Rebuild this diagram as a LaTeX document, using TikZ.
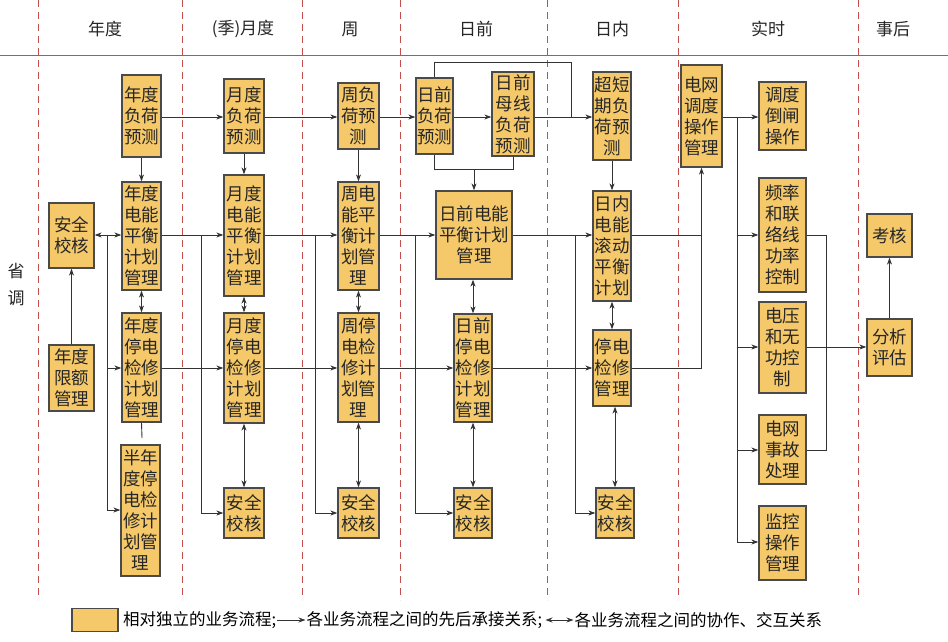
\documentclass[tikz,border=0pt]{standalone}
\usepackage{fontspec}
\setmainfont{Noto Sans CJK SC}
\usetikzlibrary{arrows.meta}
\definecolor{bfill}{HTML}{F5C96A}
\definecolor{bdraw}{HTML}{4A4A4A}
\definecolor{dred}{HTML}{C0504D}
\tikzset{
  box/.style={draw=bdraw,line width=1.3pt,fill=bfill,inner sep=0pt,align=center,
    font=\fontsize{17.5}{21}\selectfont,text=black!85},
  ln/.style={draw=black!80,line width=0.9pt},
  ar/.style={ln,-{Stealth[length=7pt,width=5pt]}},
  dar/.style={ln,{Stealth[length=7pt,width=5pt]}-{Stealth[length=7pt,width=5pt]}},
  sep/.style={draw=dred,line width=0.8pt,dash pattern=on 7pt off 5pt},
  hd/.style={font=\fontsize{17}{20}\selectfont,text=black!85}
}
\begin{document}
\begin{tikzpicture}[x=1pt,y=-1pt]
\def\B#1#2#3#4#5#6{\path node[box,minimum width={(#4-#2)*1pt},minimum height={(#5-#3)*1pt}] (#1) at ({(#2+#4)/2},{(#3+#5)/2}) {#6};}
\useasboundingbox (0,0) rectangle (948,642);
\fill[white] (0,0) rectangle (948,642);
% separators
\foreach \x in {38,182,302,400,547,678,858} \draw[sep] (\x,0) -- (\x,600);
\draw[dred,line width=0.8pt] (0,55) -- (948,55);
\node[hd] (h1) at (105,29) {年度};
\node[hd] (h2) at (243,29) {(季)月度};
\node[hd] (h3) at (350,29) {周};
\node[hd] (h4) at (476,29) {日前};
\node[hd] (h5) at (612,29) {日内};
\node[hd] (h6) at (768,29) {实时};
\node[hd] (h7) at (893,29) {事后};
\node[hd,align=center,font=\fontsize{17}{27}\selectfont] (sd) at (16,285) {省\\调};
% boxes
\B{ys}{49}{203}{94}{268}{安全\\校核}
\B{lim}{49}{345}{94}{411}{年度\\限额\\管理}
\B{yl}{122}{75}{161}{157}{年度\\负荷\\预测}
\B{ye}{122}{182}{161}{290}{年度\\电能\\平衡\\计划\\管理}
\B{yo}{122}{313}{161}{422}{年度\\停电\\检修\\计划\\管理}
\B{hy}{121}{445}{160}{576}{半年\\度停\\电检\\修计\\划管\\理}
\B{ml}{224}{79}{264}{153}{月度\\负荷\\预测}
\B{me}{224}{175}{264}{296}{月度\\电能\\平衡\\计划\\管理}
\B{mo}{224}{313}{264}{423}{月度\\停电\\检修\\计划\\管理}
\B{ms}{224}{488}{264}{538}{安全\\校核}
\B{wl}{338}{83}{379}{149}{周负\\荷预\\测}
\B{we}{338}{182}{379}{290}{周电\\能平\\衡计\\划管\\理}
\B{wo}{338}{313}{379}{422}{周停\\电检\\修计\\划管\\理}
\B{ws}{338}{488}{379}{538}{安全\\校核}
\B{dl}{416}{78}{453}{154}{日前\\负荷\\预测}
\B{db}{492}{72}{534}{156}{日前\\母线\\负荷\\预测}
\B{dpe}{436}{191}{512}{279}{日前电能\\平衡计划\\管理}
\B{dpo}{454}{314}{492}{422}{日前\\停电\\检修\\计划\\管理}
\B{ds}{454}{488}{492}{538}{安全\\校核}
\B{cd}{593}{72}{631}{160}{超短\\期负\\荷预\\测}
\B{ce}{593}{191}{631}{301}{日内\\电能\\滚动\\平衡\\计划}
\B{co}{593}{330}{631}{406}{停电\\检修\\管理}
\B{cs}{596}{488}{634}{538}{安全\\校核}
\B{grid}{681}{65}{722}{167}{电网\\调度\\操作\\管理}
\B{sw}{759}{82}{806}{150}{调度\\倒闸\\操作}
\B{freq}{759}{178}{806}{292}{频率\\和联\\络线\\功率\\控制}
\B{volt}{759}{302}{806}{393}{电压\\和无\\功控\\制}
\B{acc}{759}{415}{806}{484}{电网\\事故\\处理}
\B{mon}{759}{506}{806}{580}{监控\\操作\\管理}
\B{kh}{867}{214}{912}{257}{考核}
\B{ana}{867}{319}{912}{376}{分析\\评估}
% load row
\draw[ar] (yl.east |- 0,117) -- (ml.west |- 0,117);
\draw[ar] (ml.east |- 0,117) -- (wl.west |- 0,117);
\draw[ar] (wl.east |- 0,117) -- (dl.west |- 0,117);
\draw[ar] (dl.east |- 0,117) -- (db.west |- 0,117);
\draw[ar] (db.east |- 0,117) -- (cd.west |- 0,117);
\draw[ln] (dl.north) |- (571,62) -- (571,117);
\draw[ln] (dl.south) |- (db.south |- 0,169) -- (db.south);
\draw[ar] (dpe.north |- 0,169) -- (dpe.north);
% verticals
\draw[ar] (yl) -- (ye);
\draw[ar] (ml) -- (me);
\draw[ar] (wl) -- (we);
\draw[ar] (cd) -- (ce);
\draw[dar] (ye) -- (yo);
\draw[dar] (me) -- (mo);
\draw[dar] (we) -- (wo);
\draw[dar] (dpe.south -| dpo.north) -- (dpo.north);
\draw[dar] (ce) -- (co);
\draw[dar] (mo) -- (ms);
\draw[dar] (wo) -- (ws);
\draw[dar] (dpo) -- (ds);
\draw[dar] (co.south -| cs.north) -- (cs.north);
\draw[ln] (yo.south) -- (142,438);
% energy row
\draw[ar] (ye.east |- 0,235) -- (me.west |- 0,235);
\draw[ar] (me.east |- 0,235) -- (we.west |- 0,235);
\draw[ar] (we.east |- 0,235) -- (dpe.west |- 0,235);
\draw[ar] (dpe.east |- 0,235) -- (ce.west |- 0,235);
\draw[ar] (ce.east |- 0,235) -| (grid.south);
% outage row
\draw[ar] (yo.east |- 0,368) -- (mo.west |- 0,368);
\draw[ar] (mo.east |- 0,368) -- (wo.west |- 0,368);
\draw[ar] (wo.east |- 0,368) -- (dpo.west |- 0,368);
\draw[ar] (dpo.east |- 0,368) -- (co.west |- 0,368);
\draw[ln] (co.east |- 0,368) -| (grid.south |- 0,235);
% branches to safety checks
\draw[ar] (201,235) |- (ms.west);
\draw[ar] (315,235) |- (ws.west);
\draw[ar] (415,235) |- (ds.west);
\draw[ar] (575,235) |- (cs.west);
% left
\draw[ar] (lim) -- (ys);
\draw[dar] (ys.east |- 0,235) -- (ye.west |- 0,235);
\draw[ar] (107,235) |- (hy.west |- 0,510);
\draw[ar] (107,368) -- (yo.west |- 0,368);
% realtime
\draw[ar] (grid.east |- 0,117) -- (sw.west |- 0,117);
\draw[ar] (737,117) |- (mon.west |- 0,542);
\draw[ar] (737,235) -- (freq.west |- 0,235);
\draw[ar] (737,347) -- (volt.west |- 0,347);
\draw[ar] (737,450) -- (acc.west |- 0,450);
\draw[ln] (freq.east |- 0,235) -- (826,235) -- (826,450) -- (acc.east |- 0,450);
\draw[ar] (volt.east |- 0,347) -- (ana.west |- 0,347);
\draw[ar] (ana) -- (kh);
% legend
\node[box,minimum width=46pt,minimum height=23pt] (lg) at (95,620) {};
\node[anchor=west,font=\fontsize{16.5}{20}\selectfont,inner sep=1pt] (t1) at (122,620) {相对独立的业务流程;};
\coordinate (a1) at (t1.east);
\coordinate (a2) at ([xshift=28pt]t1.east);
\draw[ar] (a1) -- (a2);
\node[anchor=west,font=\fontsize{16.5}{20}\selectfont,inner sep=1pt] (t2) at (a2) {各业务流程之间的先后承接关系;};
\coordinate (b1) at ([xshift=2pt]t2.east);
\coordinate (b2) at ([xshift=30pt]t2.east);
\draw[dar] (b1) -- (b2);
\node[anchor=west,font=\fontsize{16.5}{20}\selectfont,inner sep=1pt] (t3) at (b2) {各业务流程之间的协作、交互关系};
\end{tikzpicture}
\end{document}
